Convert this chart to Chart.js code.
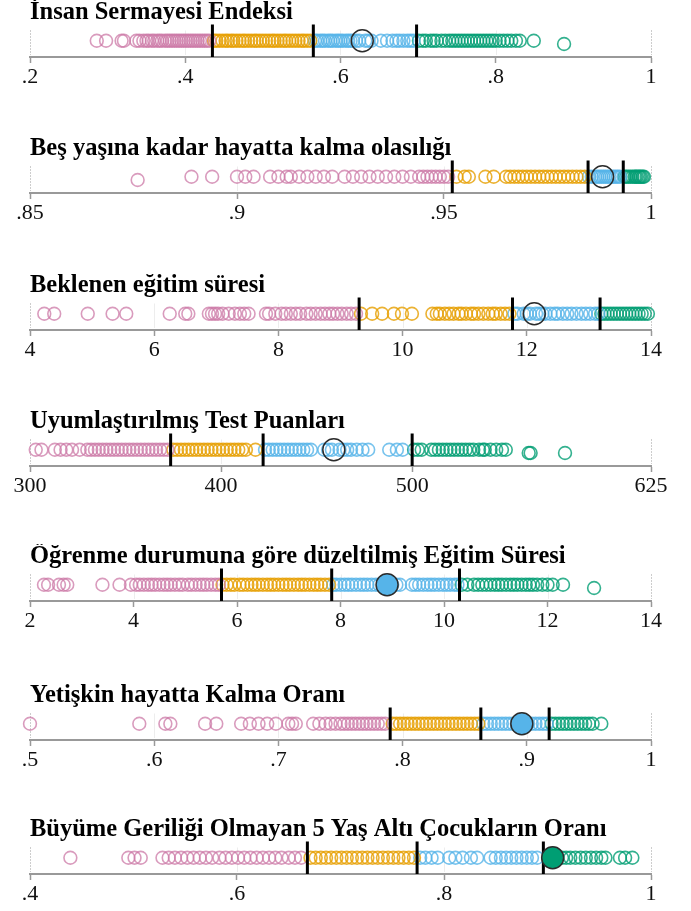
<!DOCTYPE html>
<html lang="tr">
<head>
<meta charset="utf-8">
<title>İnsan Sermayesi Endeksi</title>
<script src="https://cdn.jsdelivr.net/npm/chart.js@4"></script>
<style>
body { margin: 0; background: #fff; }
.panel { position: absolute; left: 0; width: 691px; height: 93px; }
</style>
</head>
<body>
<div class="panel" style="top:0px"><canvas id="c1"></canvas></div>
<div class="panel" style="top:136px"><canvas id="c2"></canvas></div>
<div class="panel" style="top:273px"><canvas id="c3"></canvas></div>
<div class="panel" style="top:409px"><canvas id="c4"></canvas></div>
<div class="panel" style="top:544px"><canvas id="c5"></canvas></div>
<div class="panel" style="top:683px"><canvas id="c6"></canvas></div>
<div class="panel" style="top:817px"><canvas id="c7"></canvas></div>
<script>
// --- 1. İnsan Sermayesi Endeksi
const hciTicks = [0.2, 0.4, 0.6, 0.8, 1];
const hciQ1 = [0.286, 0.298, 0.318, 0.321, 0.337, 0.341, 0.346, 0.35, 0.353, 0.357, 0.36, 0.364, 0.367, 0.37, 0.374, 0.377, 0.38, 0.383, 0.386, 0.389, 0.392, 0.395, 0.398, 0.401, 0.404, 0.407, 0.41, 0.413, 0.416, 0.419, 0.422, 0.425, 0.428, 0.431];
const hciQ2 = [0.437, 0.44, 0.444, 0.448, 0.452, 0.455, 0.459, 0.462, 0.466, 0.47, 0.474, 0.477, 0.481, 0.485, 0.489, 0.492, 0.496, 0.5, 0.504, 0.508, 0.512, 0.515, 0.519, 0.523, 0.527, 0.53, 0.534, 0.538, 0.542, 0.546, 0.55, 0.553, 0.557, 0.561];
const hciQ3 = [0.567, 0.57, 0.574, 0.577, 0.58, 0.584, 0.587, 0.59, 0.594, 0.597, 0.6, 0.603, 0.607, 0.61, 0.613, 0.616, 0.62, 0.624, 0.632, 0.636, 0.64, 0.652, 0.66, 0.667, 0.672, 0.676, 0.681, 0.686, 0.69, 0.694];
const hciQ4 = [0.701, 0.706, 0.71, 0.716, 0.72, 0.724, 0.73, 0.735, 0.74, 0.744, 0.748, 0.752, 0.756, 0.76, 0.764, 0.768, 0.772, 0.776, 0.78, 0.784, 0.788, 0.792, 0.796, 0.8, 0.805, 0.81, 0.815, 0.82, 0.826, 0.831, 0.849, 0.888];
const hciLow = [0.888];
const hciCuts = [0.435, 0.565, 0.698];
const hciCountry = 0.628;

// --- 2. Beş yaşına kadar hayatta kalma olasılığı
const u5Ticks = [0.85, 0.9, 0.95, 1];
const u5Q1 = [0.876, 0.889, 0.894, 0.9, 0.902, 0.904, 0.908, 0.91, 0.912, 0.913, 0.915, 0.917, 0.919, 0.921, 0.923, 0.926, 0.928, 0.93, 0.932, 0.934, 0.936, 0.938, 0.94, 0.942, 0.944, 0.945, 0.946, 0.947, 0.948, 0.949, 0.95, 0.951];
const u5Q2 = [0.953, 0.955, 0.956, 0.96, 0.962, 0.965, 0.966, 0.967, 0.968, 0.969, 0.97, 0.971, 0.972, 0.973, 0.974, 0.975, 0.976, 0.977, 0.978, 0.979, 0.98, 0.981, 0.982, 0.983, 0.984];
const u5Q3 = [0.985, 0.9857, 0.9865, 0.987, 0.9875, 0.988, 0.9885, 0.989, 0.9895, 0.99, 0.9905, 0.991, 0.9915, 0.992, 0.9925];
const u5Q4 = [0.9936, 0.994, 0.9945, 0.995, 0.9955, 0.996, 0.9963, 0.9966, 0.997, 0.9973, 0.9976, 0.998, 0.9983];
const u5Low = [0.876];
const u5Cuts = [0.952, 0.9848, 0.9933];
const u5Country = 0.9883;

// --- 3. Beklenen eğitim süresi
const eysTicks = [4, 6, 8, 10, 12, 14];
const eysQ1 = [4.23, 4.39, 4.93, 5.33, 5.55, 6.25, 6.5, 6.55, 6.88, 6.93, 6.98, 7.03, 7.1, 7.2, 7.3, 7.38, 7.45, 7.52, 7.8, 7.85, 7.95, 8.05, 8.12, 8.2, 8.28, 8.35, 8.45, 8.52, 8.6, 8.68, 8.75, 8.82, 8.88, 8.95, 9.02, 9.1, 9.17, 9.25];
const eysQ2 = [9.33, 9.51, 9.67, 9.86, 9.99, 10.15, 10.48, 10.55, 10.6, 10.68, 10.75, 10.82, 10.9, 10.95, 11.02, 11.1, 11.15, 11.22, 11.3, 11.38, 11.45, 11.5, 11.58, 11.65, 11.72];
const eysQ3 = [11.8, 11.85, 11.95, 12.0, 12.05, 12.15, 12.2, 12.25, 12.3, 12.38, 12.45, 12.5, 12.58, 12.65, 12.72, 12.8, 12.88, 12.95, 13.02, 13.1, 13.15];
const eysQ4 = [13.2, 13.25, 13.3, 13.35, 13.4, 13.45, 13.5, 13.55, 13.6, 13.65, 13.7, 13.75, 13.8, 13.85, 13.9, 13.95];
const eysLow = [];
const eysCuts = [9.3, 11.77, 13.18];
const eysCountry = 12.12;

// --- 4. Uyumlaştırılmış Test Puanları
const htsTicks = [300, 400, 500, 625];
const htsQ1 = [303, 306, 313, 316, 319, 322, 326, 330, 332, 334, 336, 338, 340, 342, 344, 346, 348, 350, 352, 354, 356, 358, 360, 362, 364, 366, 368, 370, 372];
const htsQ2 = [375, 377, 379, 381, 383, 385, 387, 389, 391, 393, 395, 397, 399, 401, 403, 405, 407, 409, 411, 413, 418];
const htsQ3 = [423, 425, 427, 429, 431, 433, 435, 437, 439, 441, 443, 445, 447, 454, 456, 458, 462, 464, 466, 468, 471, 474, 477, 488, 492, 495];
const htsQ4 = [501, 503, 505, 510, 512, 514, 516, 518, 520, 522, 524, 526, 528, 530, 532, 535, 537, 538, 541, 544, 547, 549, 561, 562, 580];
const htsLow = [561, 562, 580];
const htsCuts = [373.6, 422, 500];
const htsCountry = 459;

// --- 5. Öğrenme durumuna göre düzeltilmiş Eğitim Süresi
const laysTicks = [2, 4, 6, 8, 10, 12, 14];
const laysQ1 = [2.27, 2.35, 2.56, 2.65, 2.72, 3.4, 3.73, 3.95, 4.05, 4.12, 4.2, 4.28, 4.35, 4.42, 4.5, 4.58, 4.65, 4.72, 4.8, 4.88, 4.95, 5.05, 5.12, 5.2, 5.28, 5.35, 5.42, 5.5, 5.58, 5.65];
const laysQ2 = [5.72, 5.8, 5.88, 5.95, 6.05, 6.12, 6.2, 6.28, 6.35, 6.42, 6.5, 6.58, 6.65, 6.72, 6.8, 6.88, 6.95, 7.02, 7.1, 7.18, 7.25, 7.32, 7.4, 7.48, 7.55, 7.62, 7.7, 7.78];
const laysQ3 = [7.86, 7.92, 8.0, 8.08, 8.15, 8.22, 8.3, 8.38, 8.45, 8.52, 8.6, 8.68, 8.75, 8.82, 9.0, 9.08, 9.15, 9.38, 9.45, 9.52, 9.6, 9.68, 9.75, 9.82, 9.9, 9.98, 10.05, 10.12, 10.2, 10.26];
const laysQ4 = [10.34, 10.45, 10.58, 10.66, 10.74, 10.82, 10.9, 10.98, 11.05, 11.12, 11.2, 11.28, 11.35, 11.42, 11.5, 11.58, 11.65, 11.72, 11.8, 11.9, 12.0, 12.1, 12.3, 12.9];
const laysLow = [12.9];
const laysCuts = [5.7, 7.83, 10.3];
const laysCountry = 8.9;

// --- 6. Yetişkin hayatta Kalma Oranı
const asrTicks = [0.5, 0.6, 0.7, 0.8, 0.9, 1];
const asrQ1 = [0.5, 0.588, 0.609, 0.613, 0.641, 0.65, 0.67, 0.677, 0.684, 0.691, 0.698, 0.708, 0.711, 0.714, 0.728, 0.733, 0.738, 0.742, 0.746, 0.75, 0.753, 0.756, 0.759, 0.762, 0.765, 0.768, 0.771, 0.774, 0.777, 0.78, 0.783, 0.786];
const asrQ2 = [0.792, 0.795, 0.798, 0.801, 0.804, 0.807, 0.81, 0.813, 0.816, 0.819, 0.822, 0.825, 0.828, 0.831, 0.834, 0.837, 0.84, 0.843, 0.846, 0.849, 0.852, 0.855, 0.858, 0.861];
const asrQ3 = [0.865, 0.868, 0.871, 0.874, 0.877, 0.88, 0.883, 0.886, 0.889, 0.892, 0.895, 0.898, 0.901, 0.904, 0.907, 0.91, 0.913, 0.916];
const asrQ4 = [0.92, 0.923, 0.926, 0.929, 0.932, 0.935, 0.938, 0.941, 0.944, 0.947, 0.95, 0.953, 0.96];
const asrLow = [];
const asrCuts = [0.79, 0.863, 0.918];
const asrCountry = 0.896;

// --- 7. Büyüme Geriliği Olmayan 5 Yaş Altı Çocukların Oranı
const nsTicks = [0.4, 0.6, 0.8, 1];
const nsQ1 = [0.439, 0.495, 0.501, 0.507, 0.528, 0.534, 0.54, 0.546, 0.552, 0.558, 0.564, 0.57, 0.576, 0.583, 0.589, 0.595, 0.601, 0.607, 0.613, 0.619, 0.625, 0.631, 0.637, 0.643, 0.65, 0.656, 0.662];
const nsQ2 = [0.671, 0.676, 0.681, 0.686, 0.691, 0.696, 0.701, 0.706, 0.711, 0.716, 0.721, 0.726, 0.731, 0.736, 0.741, 0.746, 0.751, 0.756, 0.761, 0.766, 0.771];
const nsQ3 = [0.777, 0.782, 0.788, 0.794, 0.805, 0.811, 0.818, 0.826, 0.832, 0.845, 0.85, 0.855, 0.86, 0.865, 0.87, 0.875, 0.88, 0.885, 0.89];
const nsQ4 = [0.914, 0.918, 0.922, 0.927, 0.932, 0.937, 0.942, 0.947, 0.952, 0.956, 0.97, 0.975, 0.982];
const nsLow = [];
const nsCuts = [0.668, 0.774, 0.896];
const nsCountry = 0.905;

const strokeCols = ['rgba(204,121,167,0.75)', 'rgba(230,159,0,0.8)', 'rgba(86,180,233,0.8)', 'rgba(0,158,115,0.8)'];
const fillCols = ['#cc79a7', '#e69f00', '#56b4e9', '#009e73'];

// light grid lines; the end ones dotted
const stripGrid = {
  id: 'stripGrid',
  beforeDatasetsDraw(chart) {
    const { ctx, chartArea: a } = chart;
    const x = chart.scales.x;
    ctx.save();
    x.ticks.forEach((t, i) => {
      const px = Math.round(x.getPixelForValue(t.value)) + 0.5;
      const edge = i === 0 || i === x.ticks.length - 1;
      ctx.beginPath();
      ctx.setLineDash(edge ? [1, 2] : []);
      ctx.strokeStyle = edge ? '#9a9a9a' : 'rgba(0,0,0,0.07)';
      ctx.lineWidth = 1;
      ctx.moveTo(px, a.top + 6);
      ctx.lineTo(px, a.bottom - 2);
      ctx.stroke();
    });
    ctx.restore();
  }
};

function fmt(v) {
  if (v > 0 && v < 1) return String(v).replace(/^0/, '');
  return String(v);
}

function strip(id, title, groups, low, cuts, country, ticks, filled) {
  const datasets = [];
  let cg = 0;
  cuts.forEach((c, i) => { if (country > c) cg = i + 1; });
  datasets.push({
    data: [{ x: country, y: 1 }], clip: false,
    pointRadius: 11, pointHoverRadius: 11, borderWidth: 1.5, borderColor: '#2b2b2b',
    backgroundColor: filled ? fillCols[cg] : 'rgba(0,0,0,0)', order: 0
  });
  cuts.forEach(c => datasets.push({
    data: [{ x: c, y: 0 }, { x: c, y: 2 }], showLine: true, clip: false,
    borderColor: '#000', borderWidth: 3, pointRadius: 0, order: 1
  }));
  groups.forEach((g, i) => datasets.push({
    data: g.map(v => ({ x: v, y: low.includes(v) ? 0.8 : 1 })), clip: false,
    pointRadius: 6.4, pointHoverRadius: 6.4, borderWidth: 1.6,
    borderColor: strokeCols[i], backgroundColor: 'rgba(0,0,0,0)', order: 2 + i
  }));

  new Chart(document.getElementById(id), {
    type: 'scatter',
    data: { datasets },
    plugins: [stripGrid],
    options: {
      responsive: true,
      maintainAspectRatio: false,
      animation: false,
      layout: { padding: { left: 30, right: 40, top: 0, bottom: 2 } },
      plugins: {
        legend: { display: false },
        tooltip: { enabled: false },
        title: {
          display: true, text: title, align: 'start', color: '#000',
          font: { family: 'Liberation Serif', size: 24.5, weight: 'bold', lineHeight: 1 },
          padding: { top: 0, bottom: 0 }
        }
      },
      scales: {
        x: {
          type: 'linear', min: ticks[0], max: ticks[ticks.length - 1],
          afterBuildTicks: s => { s.ticks = ticks.map(v => ({ value: v })); },
          ticks: {
            callback: v => fmt(v), color: '#111', padding: 3, maxRotation: 0, autoSkip: false,
            font: { family: 'Liberation Serif', size: 22, lineHeight: 1 }
          },
          grid: { drawOnChartArea: false, drawTicks: true, tickLength: 6, tickColor: '#999', tickWidth: 1.5 },
          border: { display: true, color: '#999', width: 2 }
        },
        y: { display: false, min: 0, max: 2 }
      }
    }
  });
}

strip('c1', 'İnsan Sermayesi Endeksi', [hciQ1, hciQ2, hciQ3, hciQ4], hciLow, hciCuts, hciCountry, hciTicks, false);
strip('c2', 'Beş yaşına kadar hayatta kalma olasılığı', [u5Q1, u5Q2, u5Q3, u5Q4], u5Low, u5Cuts, u5Country, u5Ticks, false);
strip('c3', 'Beklenen eğitim süresi', [eysQ1, eysQ2, eysQ3, eysQ4], eysLow, eysCuts, eysCountry, eysTicks, false);
strip('c4', 'Uyumlaştırılmış Test Puanları', [htsQ1, htsQ2, htsQ3, htsQ4], htsLow, htsCuts, htsCountry, htsTicks, false);
strip('c5', 'Öğrenme durumuna göre düzeltilmiş Eğitim Süresi', [laysQ1, laysQ2, laysQ3, laysQ4], laysLow, laysCuts, laysCountry, laysTicks, true);
strip('c6', 'Yetişkin hayatta Kalma Oranı', [asrQ1, asrQ2, asrQ3, asrQ4], asrLow, asrCuts, asrCountry, asrTicks, true);
strip('c7', 'Büyüme Geriliği Olmayan 5 Yaş Altı Çocukların Oranı', [nsQ1, nsQ2, nsQ3, nsQ4], nsLow, nsCuts, nsCountry, nsTicks, true);
</script>
</body>
</html>
